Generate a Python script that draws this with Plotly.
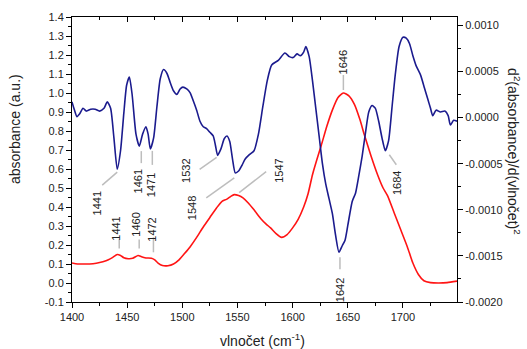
import numpy as np
import plotly.graph_objects as go

# Absorbance spectrum (left axis)
abs_wn = [1400, 1405, 1410, 1416, 1422, 1428, 1433, 1437, 1441, 1444, 1447, 1451, 1455,
          1460, 1463, 1467, 1472, 1475, 1478, 1482, 1487, 1492, 1497, 1502, 1507, 1513,
          1519, 1525, 1531, 1536, 1540, 1544, 1547, 1551, 1555, 1560, 1565, 1571, 1576,
          1580, 1585, 1590, 1595, 1600, 1605, 1610, 1614, 1618, 1622, 1626, 1631, 1636,
          1641, 1646, 1651, 1656, 1661, 1665, 1671, 1677, 1682, 1686, 1692, 1698, 1704,
          1709, 1714, 1719, 1725, 1732, 1740, 1749]
abs_val = [0.105, 0.100, 0.100, 0.100, 0.104, 0.112, 0.122, 0.135, 0.150, 0.145, 0.133,
           0.128, 0.130, 0.145, 0.138, 0.132, 0.130, 0.122, 0.105, 0.092, 0.091, 0.100,
           0.122, 0.155, 0.190, 0.240, 0.295, 0.345, 0.395, 0.430, 0.440, 0.456, 0.465,
           0.460, 0.448, 0.420, 0.385, 0.340, 0.310, 0.290, 0.260, 0.240, 0.255, 0.290,
           0.335, 0.400, 0.470, 0.570, 0.650, 0.725, 0.825, 0.910, 0.975, 1.000, 0.985,
           0.940, 0.860, 0.780, 0.670, 0.570, 0.500, 0.460, 0.370, 0.280, 0.190, 0.105,
           0.045, 0.012, 0.002, 0.000, 0.002, 0.010]

# Second derivative (right axis)
d2_wn = [1400, 1402, 1404.5, 1407, 1410, 1413, 1417, 1421, 1425, 1429, 1432, 1435, 1438,
         1441, 1444, 1447, 1449.5, 1452, 1454.5, 1458, 1461, 1464, 1467, 1469, 1471, 1474,
         1477, 1480, 1483, 1486, 1489, 1492, 1495, 1498, 1500.5, 1504, 1507, 1510, 1513,
         1516, 1519, 1522, 1525, 1528, 1530, 1532, 1535, 1538, 1540.5, 1543, 1545.5, 1548,
         1551, 1554, 1557, 1561, 1565, 1569, 1573, 1577, 1581, 1587, 1593, 1597, 1600.5,
         1604, 1607, 1610, 1612, 1615, 1618, 1621, 1624, 1627, 1630, 1633, 1636, 1639,
         1642, 1645, 1647.5, 1650, 1654, 1657, 1660, 1663, 1666, 1669, 1672, 1675, 1678,
         1681, 1684, 1687, 1690, 1693, 1696.5, 1700, 1703, 1706, 1709, 1712, 1716, 1719.5,
         1722.5, 1725, 1727, 1730, 1734, 1738, 1741, 1743, 1746, 1749]
d2_val = [0.00017, 0.00009, 0.00001, 0.00004, 0.00010, 0.00007, 0.00009, 0.00009, 0.00007,
          0.00010, 0.00017, 0.00010, -0.00022, -0.00056, -0.00036, 0.00005, 0.00035,
          0.00044, 0.00025, -0.00018, -0.00031, -0.00018, -0.00010, -0.00018, -0.00034,
          -0.00022, 0.00012, 0.00042, 0.00052, 0.00048, 0.00038, 0.00029, 0.00025, 0.00031,
          0.00033, 0.00031, 0.00027, 0.00018, 0.00008, -0.00004, -0.00010, -0.00012,
          -0.00016, -0.00020, -0.00030, -0.00041, -0.00034, -0.00023, -0.00020, -0.00026,
          -0.00045, -0.00060, -0.00058, -0.00052, -0.00045, -0.00040, -0.00036, -0.00018,
          0.00012, 0.00040, 0.00057, 0.00062, 0.00070, 0.00066, 0.00065, 0.00069, 0.00067,
          0.00071, 0.00077, 0.00066, 0.00040, 0.00010, -0.00020, -0.00050, -0.00072,
          -0.00088, -0.00104, -0.00128, -0.00146, -0.00139, -0.00133, -0.00117, -0.00091,
          -0.00082, -0.00063, -0.00042, -0.00017, 0.00006, 0.00013, 0.00010, -0.00004,
          -0.00022, -0.00036, -0.00025, 0.00010, 0.00046, 0.00077, 0.00087, 0.00086,
          0.00080, 0.00067, 0.00056, 0.00046, 0.00032, 0.00020, 0.00010, 0.00002, 0.00008,
          0.00006, 0.00007, 0.00002, -0.00008, -0.00003, -0.00004]

# Tick values
x_ticks = [1400, 1450, 1500, 1550, 1600, 1650, 1700]
y_ticks = [round(-0.1 + 0.1 * i, 1) for i in range(16)]
y2_ticks = [-0.0020, -0.0015, -0.0010, -0.0005, 0.0000, 0.0005, 0.0010]

# Band labels: (text, wavenumber, curve, leader start px, leader end px, text offset px)
band_labels = [
    # second-derivative minima
    ("1441", 1441, "d2", (0, -3), (-15, -16), (-20, -34)),
    ("1461", 1461, "d2", (2, -5), (2, -17), (-1, -35)),
    ("1471", 1471, "d2", (2, -2), (2, -16), (1, -36)),
    ("1532", 1532, "d2", (-1, -2), (-18, -14), (-31, -16)),
    ("1548", 1548, "d2", (-1, -5), (-29, -25), (-43, -35)),
    ("1642", 1642, "d2", (1, -5), (1, -17), (1, -38)),
    ("1684", 1684, "d2", (4, -4), (11, -14), (11, -32)),
    # absorbance maxima
    ("1441", 1441, "abs", (2, 6), (2, 15), (-2, 26)),
    ("1460", 1460, "abs", (1, 7), (1, 16), (-2, 31)),
    ("1472", 1472, "abs", (2, 6), (2, 21), (1, 29)),
    ("1547", 1547, "abs", (5, 2), (32, 23), (44, 24)),
    ("1646", 1646, "abs", (0, 3), (0, 18), (0, 31)),
]

RED = "#ff1414"
NAVY = "#1b1b8e"
TXT = "#222222"
FONT = "Liberation Sans, Arial, sans-serif"

fig = go.Figure()
fig.add_trace(go.Scatter(x=abs_wn, y=abs_val, mode="lines", yaxis="y",
                         line=dict(color=RED, width=1.6, shape="spline", smoothing=0.6),
                         hoverinfo="skip", showlegend=False))
fig.add_trace(go.Scatter(x=d2_wn, y=d2_val, mode="lines", yaxis="y2",
                         line=dict(color=NAVY, width=1.6, shape="spline", smoothing=0.6),
                         hoverinfo="skip", showlegend=False))
# carrier for the top frame axis
fig.add_trace(go.Scatter(x=[x_ticks[0]], y=[y_ticks[0]], xaxis="x2", yaxis="y",
                         mode="markers", marker=dict(opacity=0), hoverinfo="skip",
                         showlegend=False))

shapes = []
annotations = []
for text, wn, curve, p0, p1, t in band_labels:
    if curve == "d2":
        yv, yref = float(np.interp(wn, d2_wn, d2_val)), "y2"
    else:
        yv, yref = float(np.interp(wn, abs_wn, abs_val)), "y"
    shapes.append(dict(type="line", xref="x", yref=yref,
                       xsizemode="pixel", ysizemode="pixel", xanchor=wn, yanchor=yv,
                       x0=p0[0], y0=p0[1], x1=p1[0], y1=p1[1],
                       line=dict(color="#bdbdbd", width=1.5)))
    annotations.append(dict(text=text, x=wn, y=yv, xref="x", yref=yref,
                            xshift=t[0], yshift=t[1], textangle=-90, showarrow=False,
                            xanchor="center", yanchor="middle",
                            font=dict(family=FONT, size=11, color=TXT)))

# axis titles
annotations.append(dict(text="absorbance (a.u.)", xref="paper", yref="paper",
                        x=-0.148, y=0.607, textangle=-90, showarrow=False,
                        xanchor="center", yanchor="middle",
                        font=dict(family=FONT, size=14, color=TXT)))
annotations.append(dict(text="d<sup>2</sup>(absorbance)/d(vlnočet)<sup>2</sup>",
                        xref="paper", yref="paper", x=1.148, y=0.526, textangle=90,
                        showarrow=False, xanchor="center", yanchor="middle",
                        font=dict(family=FONT, size=14, color=TXT)))
annotations.append(dict(text="vlnočet (cm<sup>-1</sup>)", xref="paper", yref="paper",
                        x=0.496, y=-0.135, showarrow=False, xanchor="center",
                        yanchor="middle", font=dict(family=FONT, size=14, color=TXT)))

axis_common = dict(showgrid=False, zeroline=False, showline=True, linecolor="black",
                   linewidth=1, tickcolor="black", tickwidth=1,
                   tickfont=dict(family=FONT, size=11, color=TXT))

fig.update_layout(
    width=527, height=349,
    margin=dict(l=72, r=70, t=17, b=47),
    paper_bgcolor="white", plot_bgcolor="white",
    xaxis=dict(range=[1400, 1749], tickvals=x_ticks, ticks="outside", ticklen=5,
               minor=dict(dtick=25, tick0=1400, ticks="outside", ticklen=3,
                          tickcolor="black"),
               **axis_common),
    xaxis2=dict(range=[1400, 1749], overlaying="x", side="top", anchor="y",
                tickvals=x_ticks, ticks="inside", ticklen=5, showticklabels=False,
                minor=dict(dtick=25, tick0=1400, ticks="inside", ticklen=3,
                           tickcolor="black"),
                **axis_common),
    yaxis=dict(range=[-0.1, 1.4], tickvals=y_ticks,
               ticktext=[f"{v:.1f}" for v in y_ticks], ticks="outside", ticklen=5,
               minor=dict(dtick=0.05, tick0=0, ticks="outside", ticklen=3,
                          tickcolor="black"),
               **axis_common),
    yaxis2=dict(range=[-0.002, 0.00109], overlaying="y", side="right", anchor="x",
                tickvals=y2_ticks, ticktext=[f"{v:.4f}" for v in y2_ticks],
                ticks="outside", ticklen=5,
                minor=dict(dtick=0.00025, tick0=0, ticks="outside", ticklen=3,
                           tickcolor="black"),
                **axis_common),
    shapes=shapes,
    annotations=annotations,
)

fig.write_html("out.html")
